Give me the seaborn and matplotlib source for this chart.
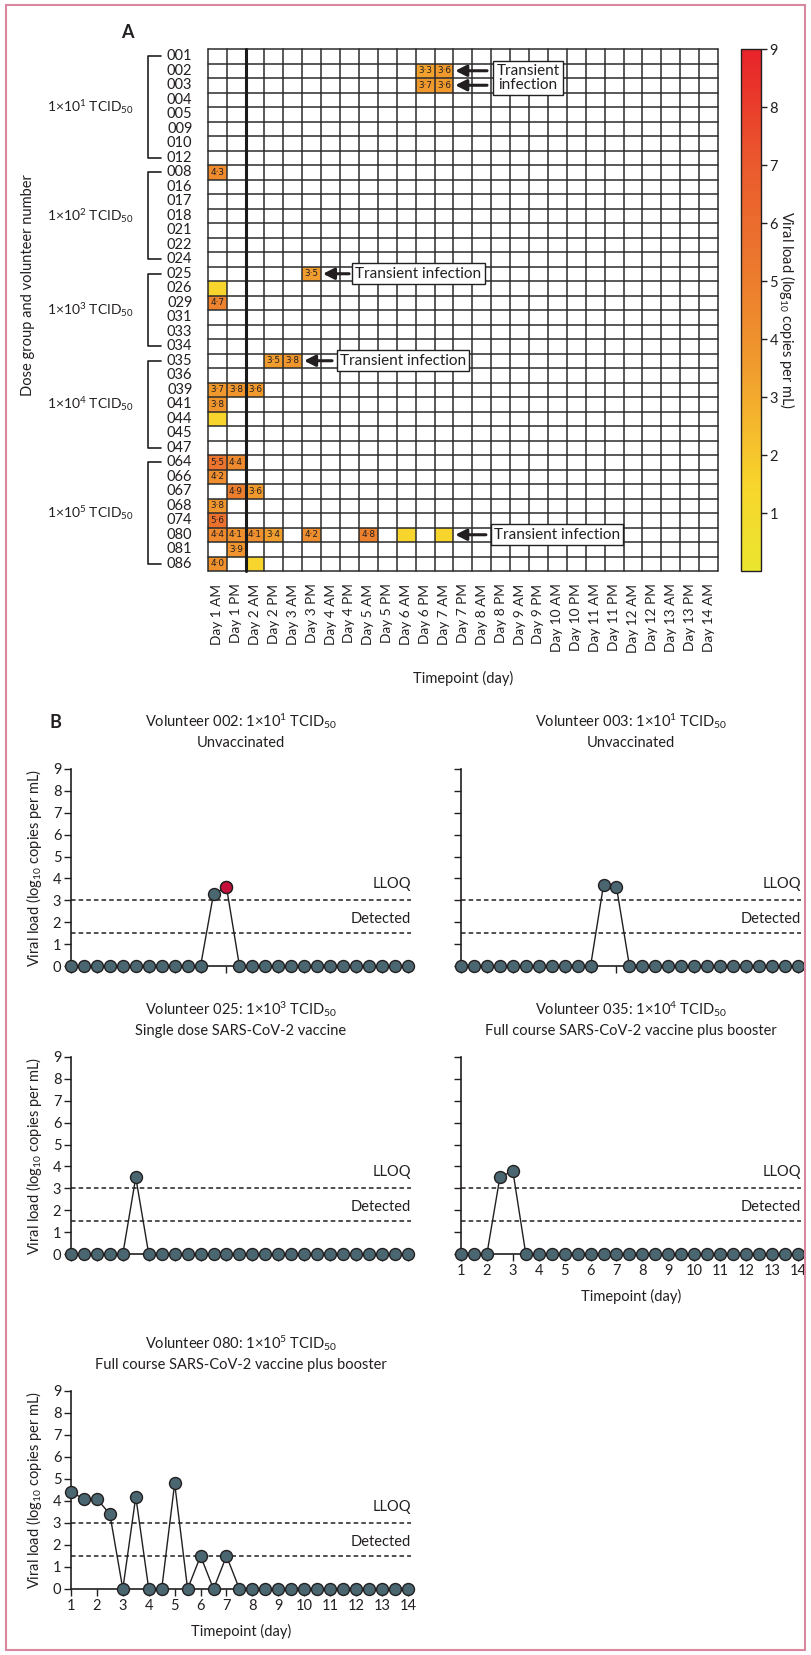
import numpy as np
import pandas as pd
import matplotlib
matplotlib.use("Agg")
import matplotlib.pyplot as plt
import matplotlib.transforms as mtransforms
from matplotlib.colors import LinearSegmentedColormap
from matplotlib.patches import Rectangle
from matplotlib.lines import Line2D
import seaborn as sns

# ---------------- data ----------------
timepoints = ["Day 1 AM", "Day 1 PM", "Day 2 AM", "Day 2 PM", "Day 3 AM", "Day 3 PM",
              "Day 4 AM", "Day 4 PM", "Day 5 AM", "Day 5 PM", "Day 6 AM", "Day 6 PM",
              "Day 7 AM", "Day 7 PM", "Day 8 AM", "Day 8 PM", "Day 9 AM", "Day 9 PM",
              "Day 10 AM", "Day 10 PM", "Day 11 AM", "Day 11 PM", "Day 12 AM", "Day 12 PM",
              "Day 13 AM", "Day 13 PM", "Day 14 AM"]
timepoint_day = [1.0, 1.5, 2.0, 2.5, 3.0, 3.5, 4.0, 4.5, 5.0, 5.5, 6.0, 6.5, 7.0, 7.5,
                 8.0, 8.5, 9.0, 9.5, 10.0, 10.5, 11.0, 11.5, 12.0, 12.5, 13.0, 13.5, 14.0]

dose_groups = ["1×10$^{1}$ TCID$_{50}$", "1×10$^{2}$ TCID$_{50}$", "1×10$^{3}$ TCID$_{50}$",
               "1×10$^{4}$ TCID$_{50}$", "1×10$^{5}$ TCID$_{50}$"]
group_1 = ["001", "002", "003", "004", "005", "009", "010", "012"]
group_2 = ["008", "016", "017", "018", "021", "022", "024"]
group_3 = ["025", "026", "029", "031", "033", "034"]
group_4 = ["035", "036", "039", "041", "044", "045", "047"]
group_5 = ["064", "066", "067", "068", "074", "080", "081", "086"]
groups = [group_1, group_2, group_3, group_4, group_5]

det_volunteer = ["002", "002", "003", "003", "008", "025", "026", "029", "035", "035",
                 "039", "039", "039", "041", "044", "064", "064", "066", "067", "067",
                 "068", "074", "080", "080", "080", "080", "080", "080", "080", "080",
                 "081", "086", "086"]
det_timepoint = ["Day 6 PM", "Day 7 AM", "Day 6 PM", "Day 7 AM", "Day 1 AM", "Day 3 PM",
                 "Day 1 AM", "Day 1 AM", "Day 2 PM", "Day 3 AM", "Day 1 AM", "Day 1 PM",
                 "Day 2 AM", "Day 1 AM", "Day 1 AM", "Day 1 AM", "Day 1 PM", "Day 1 AM",
                 "Day 1 PM", "Day 2 AM", "Day 1 AM", "Day 1 AM", "Day 1 AM", "Day 1 PM",
                 "Day 2 AM", "Day 2 PM", "Day 3 PM", "Day 5 AM", "Day 6 AM", "Day 7 AM",
                 "Day 1 PM", "Day 1 AM", "Day 2 AM"]
det_value = [3.3, 3.6, 3.7, 3.6, 4.3, 3.5, 1.5, 4.7, 3.5, 3.8,
             3.7, 3.8, 3.6, 3.8, 1.5, 5.5, 4.4, 4.2, 4.9, 3.6,
             3.8, 5.6, 4.4, 4.1, 4.1, 3.4, 4.2, 4.8, 1.5, 1.5,
             3.9, 4.0, 1.5]

LLOQ = 3.0
DETECTED = 1.5

transient = [("002", "003"), ("025",), ("035",), ("080",)]
transient_text = ["Transient\ninfection", "Transient infection", "Transient infection",
                  "Transient infection"]

profile_volunteers = ["002", "003", "025", "035", "080"]
profile_titles = ["Volunteer 002: 1×10$^{1}$ TCID$_{50}$", "Volunteer 003: 1×10$^{1}$ TCID$_{50}$",
                  "Volunteer 025: 1×10$^{3}$ TCID$_{50}$", "Volunteer 035: 1×10$^{4}$ TCID$_{50}$",
                  "Volunteer 080: 1×10$^{5}$ TCID$_{50}$"]
profile_subtitles = ["Unvaccinated", "Unvaccinated", "Single dose SARS-CoV-2 vaccine",
                     "Full course SARS-CoV-2 vaccine plus booster",
                     "Full course SARS-CoV-2 vaccine plus booster"]
highlight_volunteer = "002"
highlight_timepoint = "Day 7 AM"

# ---------------- style ----------------
sns.set_theme(style="white")
plt.rcParams["font.family"] = ["Lato", "DejaVu Sans"]
plt.rcParams["mathtext.fontset"] = "custom"
plt.rcParams["mathtext.rm"] = "Lato"
plt.rcParams["mathtext.it"] = "Lato:italic"
plt.rcParams["mathtext.bf"] = "Lato:bold"
TXT = "#231f20"
for k in ["text.color", "axes.labelcolor", "xtick.color", "ytick.color", "axes.edgecolor"]:
    plt.rcParams[k] = TXT

W, H = 811, 1655
fig = plt.figure(figsize=(W / 100, H / 100), dpi=100)
fig.patch.set_facecolor("white")

def fx(px):
    return px / W

def fy(py):
    return 1 - py / H

# ---------------- panel A ----------------
volunteers = [v for g in groups for v in g]
mat = pd.DataFrame(np.nan, index=volunteers, columns=timepoints)
for v, t, val in zip(det_volunteer, det_timepoint, det_value):
    mat.loc[v, t] = val
labels = mat.map(lambda x: ("%.1f" % x).replace(".", "\u00b7") if (x == x and x >= LLOQ) else "")

cmap = LinearSegmentedColormap.from_list(
    "vl", [(0, "#EAE52F"), (1.5 / 9, "#F8D52C"), (3.5 / 9, "#F09C2E"),
           (5 / 9, "#EC7D2E"), (7 / 9, "#EA5A2D"), (1, "#E8232B")])

gx0, gx1, gy0, gy1 = 207.7, 718.0, 49.0, 571.0
ax = fig.add_axes([fx(gx0), fy(gy1), fx(gx1) - fx(gx0), (gy1 - gy0) / H])
cax = fig.add_axes([fx(741), fy(gy1), fx(761) - fx(741), (gy1 - gy0) / H])

sns.heatmap(mat, ax=ax, cbar_ax=cax, cmap=cmap, vmin=0, vmax=9,
            mask=mat.isna(), annot=labels.values, fmt="",
            annot_kws={"size": 6.4, "color": TXT, "family": ["DejaVu Sans"]},
            xticklabels=timepoints, yticklabels=volunteers,
            cbar_kws={"ticks": list(range(1, 10))})

nrow, ncol = mat.shape
for i in range(nrow + 1):
    ax.axhline(i, color="#2b2b2b", lw=1.1, clip_on=False, zorder=3)
for j in range(ncol + 1):
    ax.axvline(j, color="#2b2b2b", lw=1.1, clip_on=False, zorder=3)
ax.axvline(2, color="#1a1a1a", lw=2.2, clip_on=False, zorder=4)

ax.tick_params(axis="x", length=0, pad=9, labelsize=9.8, rotation=90)
ax.tick_params(axis="y", length=0, pad=11, labelsize=10.5, rotation=0)
ax.set_xlabel("")
ax.set_ylabel("")
fig.text(fx(463), fy(678), "Timepoint (day)", ha="center", va="center", fontsize=10.5)
fig.text(fx(28), fy(285), "Dose group and volunteer number", ha="center", va="center",
         rotation=90, fontsize=10.5)
fig.text(fx(127), fy(33), "A", ha="center", va="center", fontsize=13, fontweight="bold")

# brackets and dose group labels
trans = mtransforms.blended_transform_factory(fig.transFigure, ax.transData)
start = 0
for g, name in zip(groups, dose_groups):
    s, e = start + 0.5, start + len(g) - 0.5
    fig.add_artist(Line2D([fx(161), fx(147.5), fx(147.5), fx(161)], [s, s, e, e],
                          transform=trans, color=TXT, lw=1.2))
    ax.text(fx(90), (s + e) / 2, name, transform=trans, ha="center", va="center",
            fontsize=10, clip_on=False)
    start += len(g)

# colorbar
cbar = ax.collections[0].colorbar
cbar.outline.set_edgecolor(TXT)
cbar.outline.set_linewidth(1)
cax.tick_params(length=4, width=1, labelsize=10.5, pad=2, color=TXT)
cax.set_ylabel("Viral load (log$_{10}$ copies per mL)", rotation=270, labelpad=14, fontsize=10.5)

# transient infection annotations
box_center = {("002", "003"): 16.95, ("025",): 11.15, ("035",): 10.33, ("080",): 18.48}
box_left = {("002", "003"): 14.78, ("025",): 7.48, ("035",): 6.58, ("080",): 14.72}
for key, txt in zip(transient, transient_text):
    rows = [volunteers.index(v) + 0.5 for v in key]
    last_col = max(timepoints.index(t) for v, t in zip(det_volunteer, det_timepoint) if v in key)
    ax.text(box_center[key], np.mean(rows), txt, ha="center", va="center", fontsize=11,
            linespacing=1.0, zorder=6,
            bbox=dict(boxstyle="square,pad=0.22", fc="white", ec=TXT, lw=1))
    for r in rows:
        ax.annotate("", xy=(last_col + 1.1, r), xytext=(box_left[key], r),
                    arrowprops=dict(arrowstyle="-|>,head_length=0.55,head_width=0.28",
                                    lw=2.2, color=TXT, shrinkA=0, shrinkB=0),
                    annotation_clip=False, zorder=5)

# ---------------- panel B ----------------
FACE = "#4A6670"
RED = "#C4103A"
col_left = [71, 461]
ax_w = 340
row_geo = [(769, 966), (1057, 1254), (1391, 1589)]
positions = [(0, 0), (1, 0), (0, 1), (1, 1), (0, 2)]
with_xlabels = ["035", "080"]

fig.text(fx(55), fy(722), "B", ha="center", va="center", fontsize=13, fontweight="bold")

for vol, title, sub, (c, r) in zip(profile_volunteers, profile_titles, profile_subtitles, positions):
    top, bot = row_geo[r]
    bax = fig.add_axes([fx(col_left[c]), fy(bot), ax_w / W, (bot - top) / H])
    vals = np.zeros(len(timepoints))
    for v, t, val in zip(det_volunteer, det_timepoint, det_value):
        if v == vol:
            vals[timepoints.index(t)] = val
    df = pd.DataFrame({"day": timepoint_day, "load": vals})
    bax.axhline(LLOQ, color=TXT, lw=1.1, ls=(0, (3, 2)), zorder=1)
    bax.axhline(DETECTED, color=TXT, lw=1.1, ls=(0, (3, 2)), zorder=1)
    sns.lineplot(data=df, x="day", y="load", ax=bax, color=TXT, lw=1, marker="o",
                 markersize=8.6, markerfacecolor=FACE, markeredgecolor=TXT,
                 markeredgewidth=1, clip_on=False, zorder=4)
    if vol == highlight_volunteer:
        k = timepoints.index(highlight_timepoint)
        hl = df.iloc[[k]]
        sns.scatterplot(data=hl, x="day", y="load", ax=bax, color=RED, s=74,
                        edgecolor=TXT, linewidth=1, zorder=5, clip_on=False)
    bax.set_xlim(1, 14.12)
    bax.set_ylim(0, 9)
    bax.set_xticks(range(1, 15))
    bax.set_yticks(range(0, 10))
    for sp in ["top", "right"]:
        bax.spines[sp].set_visible(False)
    for sp in ["left", "bottom"]:
        bax.spines[sp].set_linewidth(1.2)
        bax.spines[sp].set_color(TXT)
    bax.tick_params(axis="both", direction="out", length=5, width=1, labelsize=10.5,
                    pad=2, left=True, bottom=True)
    bax.text(14.12, LLOQ + 0.73, "LLOQ", ha="right", va="center", fontsize=10.5)
    bax.text(14.12, DETECTED + 0.64, "Detected", ha="right", va="center", fontsize=10.5)
    bax.set_title(title + "\n" + sub, fontsize=10.5, pad=16, linespacing=1.4)
    if c == 0:
        bax.set_ylabel("Viral load (log$_{10}$ copies per mL)", fontsize=10.5, labelpad=6)
    else:
        bax.set_ylabel("")
        bax.set_yticklabels([])
    if vol in with_xlabels:
        bax.set_xlabel("Timepoint (day)", fontsize=10.5, labelpad=8)
    else:
        bax.set_xlabel("")
        bax.set_xticklabels([])
    if bax.get_legend() is not None:
        bax.get_legend().remove()

# pink frame
fig.patches.append(Rectangle((fx(6), fy(1650)), fx(805) - fx(6), (1650 - 5) / H,
                             transform=fig.transFigure, fill=False, ec="#D9889F", lw=1.5))

fig.savefig("out.png", dpi=100, facecolor="white")
